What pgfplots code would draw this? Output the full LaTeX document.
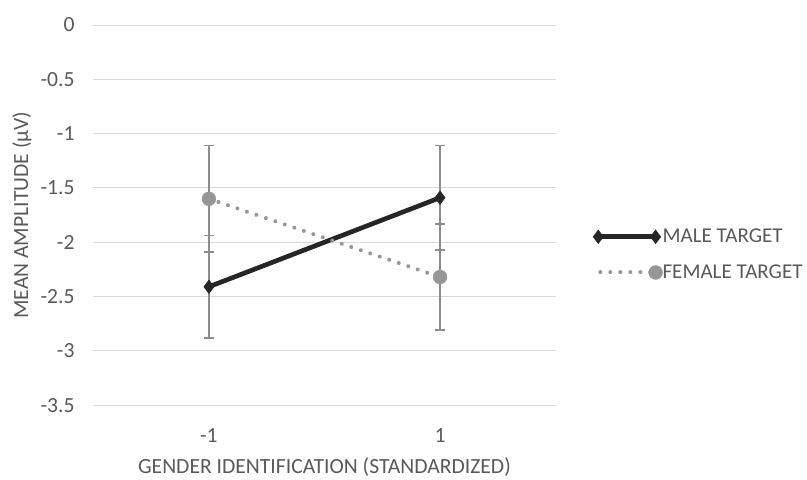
\documentclass[border=0pt]{standalone}
\usepackage{fontspec}
\setmainfont{Carlito}
\usepackage{pgfplots}
\pgfplotsset{compat=1.18}
\definecolor{txt}{HTML}{595959}
\definecolor{gridc}{HTML}{D9D9D9}
\definecolor{maleC}{HTML}{262626}
\definecolor{femC}{HTML}{969696}
\definecolor{errC}{HTML}{8C8C8C}
\newcommand{\fs}{\fontsize{16.2}{19}\selectfont}
\newcommand{\fsl}{\fontsize{15.8}{18}\selectfont}
\pgfplotsset{
  maleleg/.style={legend image code/.code={\draw[##1] plot coordinates {(0pt,0pt) (43pt,0pt)};}},
  femleg/.style={legend image code/.code={\draw[##1, mark indices={2}] plot coordinates {(1.5pt,0pt) (43pt,0pt)};}},
}
\begin{document}
\begin{tikzpicture}
\path[use as bounding box] (-70pt,-55.5pt) rectangle (535pt,303.75pt);
\begin{axis}[
  at={(0,0)}, anchor=south west,
  scale only axis, width=346.5pt, height=285pt,
  xmin=-0.5, xmax=1.5, ymin=-3.5, ymax=0,
  xtick={0,1}, xticklabels={-1,1},
  ytick={-3.5,-3,...,0},
  yticklabels={-3.5,-3,-2.5,-2,-1.5,-1,-0.5,0},
  axis line style={draw=none},
  major tick length=0pt,
  ymajorgrids, xmajorgrids=false, grid style={draw=gridc, line width=0.75pt},
  tick label style={font=\fs, text=txt},
  yticklabel style={anchor=east, inner sep=0pt, xshift=-13.9pt},
  xticklabel style={anchor=center, inner sep=0pt, yshift=-22.5pt},
  xlabel={GENDER IDENTIFICATION (STANDARDIZED)},
  ylabel={MEAN AMPLITUDE (μV)},
  every axis x label/.style={at={(axis description cs:0.5,0)}, anchor=center, yshift=-46.5pt, font=\fs, text=txt},
  every axis y label/.style={at={(axis description cs:0,0.5)}, anchor=center, rotate=90, yshift=53.6pt, font=\fs, text=txt},
  legend style={at={(axis description cs:1.081,0.396)}, anchor=west, draw=none, fill=none,
    font=\fsl, text=txt, row sep=15pt, inner sep=0pt,
    nodes={inner sep=0pt}},
  legend cell align=left,
  clip=false,
]
\addplot[maleC, line width=3.5pt, mark=diamond*, mark size=5pt, mark options={solid, fill=maleC, line width=0.5pt},
  maleleg,
  error bars/.cd, y dir=both, y explicit,
  error bar style={errC, line width=1.1pt, solid},
  error mark options={rotate=90, errC, mark size=3.75pt, line width=1.1pt}]
  coordinates {(0,-2.41) +- (0,0.47) (1,-1.59) +- (0,0.48)};
\addlegendentry{MALE TARGET}
\addplot[femC, line width=3pt, line cap=round, dash pattern=on 0.01pt off 7.5pt, mark=*, mark size=5.2pt, mark options={solid, fill=femC, draw=femC, line width=0.3pt},
  femleg,
  error bars/.cd, y dir=both, y explicit,
  error bar style={errC, line width=1.1pt, solid},
  error mark options={rotate=90, errC, mark size=3.75pt, line width=1.1pt}]
  coordinates {(0,-1.60) +- (0,0.49) (1,-2.32) +- (0,0.49)};
\addlegendentry{FEMALE TARGET}
\end{axis}
\end{tikzpicture}
\end{document}
